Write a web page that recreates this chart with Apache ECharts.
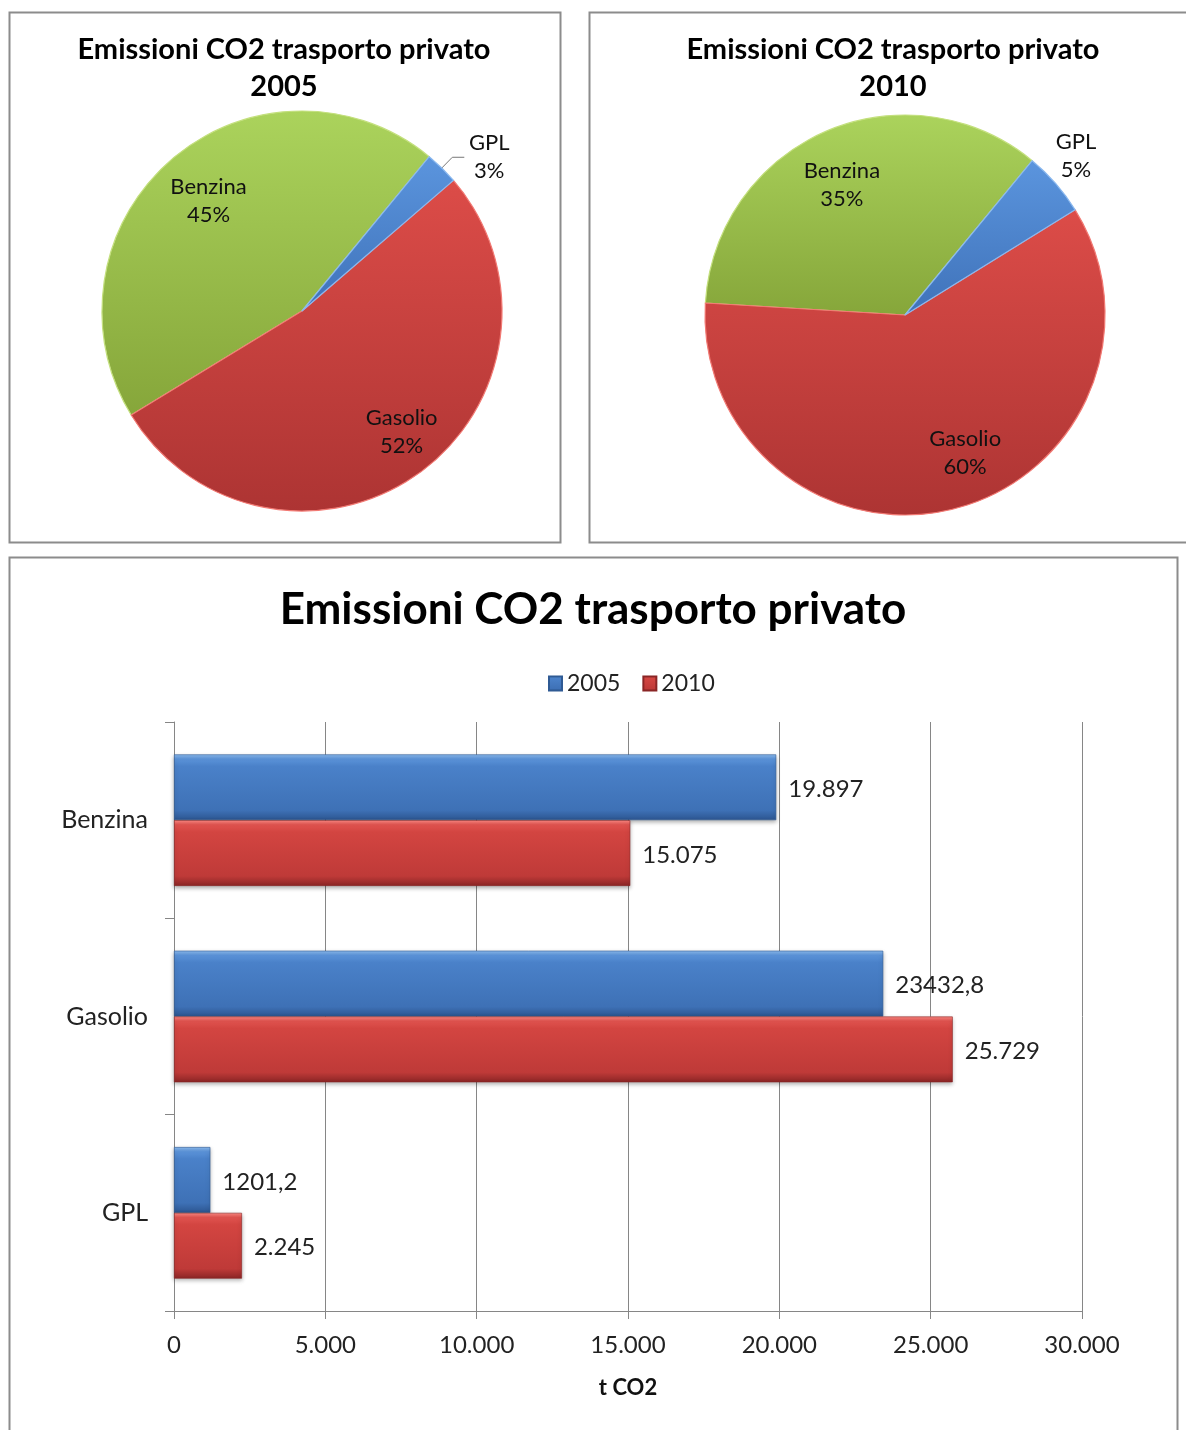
<!DOCTYPE html>
<html>
<head>
<meta charset="utf-8">
<script src="https://cdn.jsdelivr.net/npm/echarts@6/dist/echarts.min.js"></script>
<style>
html,body{margin:0;padding:0;background:#fff;}
#main{width:1186px;height:1430px;}
</style>
</head>
<body>
<div id="main"></div>
<script>
// ---- data ----
const categories = ['Benzina', 'Gasolio', 'GPL'];
const values2005 = [19897, 23432.8, 1201.2];
const values2010 = [15075, 25729, 2245];
const seriesNames = ['2005', '2010'];
const xTickLabels = ['0', '5.000', '10.000', '15.000', '20.000', '25.000', '30.000'];
const xTickStep = 5000;
const chartTitle = 'Emissioni CO2 trasporto privato';
const xAxisName = 't CO2';

// ---- style ----
const FONT = 'Lato';
function lg(stops) {
  return new echarts.graphic.LinearGradient(0, 0, 0, 1, stops.map(s => ({offset: s[0], color: s[1]})));
}
const pieColors = {
  Benzina: {fill: lg([[0, '#abd35c'], [1, '#86a63a']]), border: '#c4e07e'},
  Gasolio: {fill: lg([[0, '#dc4c48'], [1, '#ad3433']]), border: '#f27a74'},
  GPL:     {fill: lg([[0, '#5b95de'], [1, '#3f72b9']]), border: '#8ab8ef'}
};
const barBlue = lg([[0, '#8dbcf0'], [0.07, '#5b93d9'], [0.18, '#4a81c9'], [0.85, '#3e71b6'], [1, '#2c5590']]);
const barRed = lg([[0, '#ff8a84'], [0.07, '#e0534f'], [0.18, '#d34541'], [0.85, '#bf3a38'], [1, '#8a2525']]);

function fmtValue(v) {
  if (Number.isInteger(v)) return String(v).replace(/\B(?=(\d{3})+(?!\d))/g, '.');
  return String(v).replace('.', ',');
}
function pieData(vals) {
  return categories.map((c, i) => ({
    name: c, value: vals[i],
    itemStyle: {color: pieColors[c].fill, borderColor: pieColors[c].border, borderWidth: 1.2}
  }));
}

const pieLabel = {
  position: 'inside', formatter: '{b}\n{d}%', fontFamily: FONT, fontSize: 22,
  lineHeight: 28, color: '#111'
};
const gplOutside = {
  position: 'outside', formatter: p => '{c|' + p.name + '}\n{c|' + p.percent + '%}',
  rich: {c: {width: 40, align: 'center', fontFamily: FONT, fontSize: 22, lineHeight: 28, color: '#111'}}
};
const shift2005 = [[-26, -32], [39, 38], [0, 0]];
const shift2010 = [[-22, -36], [35, 38], [-28, -18]];

function pieSeries(vals, center, shifts, gplLine) {
  const data = pieData(vals);
  data[2].label = gplOutside;
  data[2].labelLine = gplLine ? {show: true, length: 15, length2: 12, lineStyle: {color: '#777', width: 1}} : {show: false, length: 15, length2: 12};
  return {
    type: 'pie', center: center, radius: 200, startAngle: 50.5, clockwise: false,
    percentPrecision: 0,
    avoidLabelOverlap: false, data: data, label: pieLabel,
    labelLine: {show: false},
    emphasis: {disabled: true},
    labelLayout: p => { const s = shifts[p.dataIndex]; return {dx: s[0], dy: s[1]}; }
  };
}

const chart = echarts.init(document.getElementById('main'), null, {renderer: 'canvas'});
const axisGray = '#868686';
chart.setOption({
  animation: false,
  backgroundColor: '#fff',
  graphic: [
    {type: 'rect', shape: {x: 9.5, y: 12.5, width: 551, height: 530}, style: {fill: 'none', stroke: '#8c8c8c', lineWidth: 2}, z: -1},
    {type: 'rect', shape: {x: 589.5, y: 12.5, width: 620, height: 530}, style: {fill: 'none', stroke: '#8c8c8c', lineWidth: 2}, z: -1},
    {type: 'rect', shape: {x: 9.5, y: 557.5, width: 1168, height: 900}, style: {fill: 'none', stroke: '#8c8c8c', lineWidth: 2}, z: -1}
  ],
  title: [
    {text: chartTitle + '\n2005', left: 279, top: 26, textAlign: 'center',
     textStyle: {fontFamily: FONT, fontWeight: 'bold', fontSize: 29, lineHeight: 37, color: '#000'}},
    {text: chartTitle + '\n2010', left: 888, top: 26, textAlign: 'center',
     textStyle: {fontFamily: FONT, fontWeight: 'bold', fontSize: 29, lineHeight: 37, color: '#000'}},
    {text: chartTitle, left: 588, top: 580, textAlign: 'center',
     textStyle: {fontFamily: FONT, fontWeight: 'bold', fontSize: 44, lineHeight: 50, color: '#000'}}
  ],
  legend: {
    data: seriesNames, left: 543, top: 667, itemWidth: 13, itemHeight: 14, itemGap: 22, icon: 'rect',
    textStyle: {fontFamily: FONT, fontSize: 23, color: '#222'}
  },
  grid: {left: 174, right: 104, top: 722, bottom: 119, containLabel: false},
  xAxis: {
    type: 'value', min: 0, max: 30000, interval: xTickStep,
    axisLine: {show: true, lineStyle: {color: axisGray}},
    axisTick: {show: true, length: 8, lineStyle: {color: axisGray}},
    splitLine: {show: true, lineStyle: {color: axisGray, width: 1}},
    axisLabel: {formatter: v => xTickLabels[Math.round(v / xTickStep)], fontFamily: FONT, fontSize: 24, color: '#222', margin: 22},
    name: xAxisName, nameLocation: 'middle', nameGap: 66,
    nameTextStyle: {fontFamily: FONT, fontWeight: 'bold', fontSize: 22, color: '#111'}
  },
  yAxis: {
    type: 'category', data: categories, inverse: true,
    axisLine: {show: true, lineStyle: {color: axisGray}},
    axisTick: {show: true, length: 9, lineStyle: {color: axisGray}},
    splitLine: {show: false},
    axisLabel: {fontFamily: FONT, fontSize: 25, color: '#222', margin: 26}
  },
  series: [
    pieSeries(values2005, [302, 311], shift2005, true),
    pieSeries(values2010, [905, 315], shift2010, false),
    {
      type: 'bar', name: seriesNames[0], data: values2005, barGap: '0%', barCategoryGap: '33%',
      itemStyle: {color: barBlue, borderColor: '#2f5a94', borderWidth: 0.6, shadowColor: 'rgba(0,0,0,0.3)', shadowBlur: 4, shadowOffsetY: 2},
      label: {show: true, position: 'right', distance: 12, offset: [0, 2], formatter: p => fmtValue(p.value), fontFamily: FONT, fontSize: 24, color: '#222'},
      emphasis: {disabled: true}
    },
    {
      type: 'bar', name: seriesNames[1], data: values2010,
      itemStyle: {color: barRed, borderColor: '#8a2525', borderWidth: 0.6, shadowColor: 'rgba(0,0,0,0.3)', shadowBlur: 4, shadowOffsetY: 2},
      label: {show: true, position: 'right', distance: 12, offset: [0, 2], formatter: p => fmtValue(p.value), fontFamily: FONT, fontSize: 24, color: '#222'},
      emphasis: {disabled: true}
    }
  ]
});
</script>
</body>
</html>
